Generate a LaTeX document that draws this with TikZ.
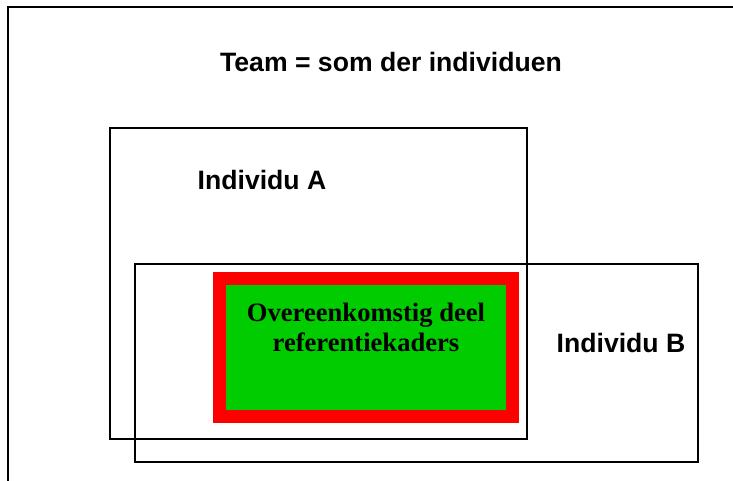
\documentclass[tikz,border=0pt]{standalone}
\usepackage{fontspec}
\setmainfont{Liberation Serif}
\setsansfont{Liberation Sans}
\begin{document}
\begin{tikzpicture}[x=1pt,y=-1pt,
  frame/.style={draw=black,line width=2pt},
  indbox/.style={draw=black,line width=1.4pt,fill=none,minimum width=#1,inner sep=0pt,outer sep=0pt},
  overlap/.style={draw=red,fill=overlapgreen,line width=13pt,inner sep=0pt,outer sep=0pt},
  label/.style={font=\sffamily\bfseries\fontsize{26.6}{30}\selectfont,inner sep=0pt,anchor=base},
  overlaptext/.style={font=\rmfamily\bfseries\fontsize{26.6}{30}\selectfont,inner sep=0pt,anchor=north,align=center}
]
\definecolor{overlapgreen}{RGB}{0,204,0}
\useasboundingbox (0,0) rectangle (733,480);
% outer frame (only left and top edges visible)
\coordinate (fbl) at (8,481);
\coordinate (ftl) at (8,6.5);
\coordinate (ftr) at (734,6.5);
\draw[frame] (fbl) -- (ftl) -- (ftr);
% individual boxes
\node[indbox=417pt,minimum height=311pt] (A) at (318.5,283.5) {};
\node[indbox=563pt,minimum height=198pt] (B) at (416.5,363) {};
% overlap box
\node[overlap,minimum width=293pt,minimum height=138pt] (C) at (366,347.5) {};
% texts
\node[label] (title) at (391,71) {Team = som der individuen};
\node[label] (la) at (262,189.3) {Individu A};
\node[label] (lb) at (621,352.7) {Individu B};
\node[overlaptext] (lc) at (366,303) {Overeenkomstig deel\\referentiekaders};
\end{tikzpicture}
\end{document}
